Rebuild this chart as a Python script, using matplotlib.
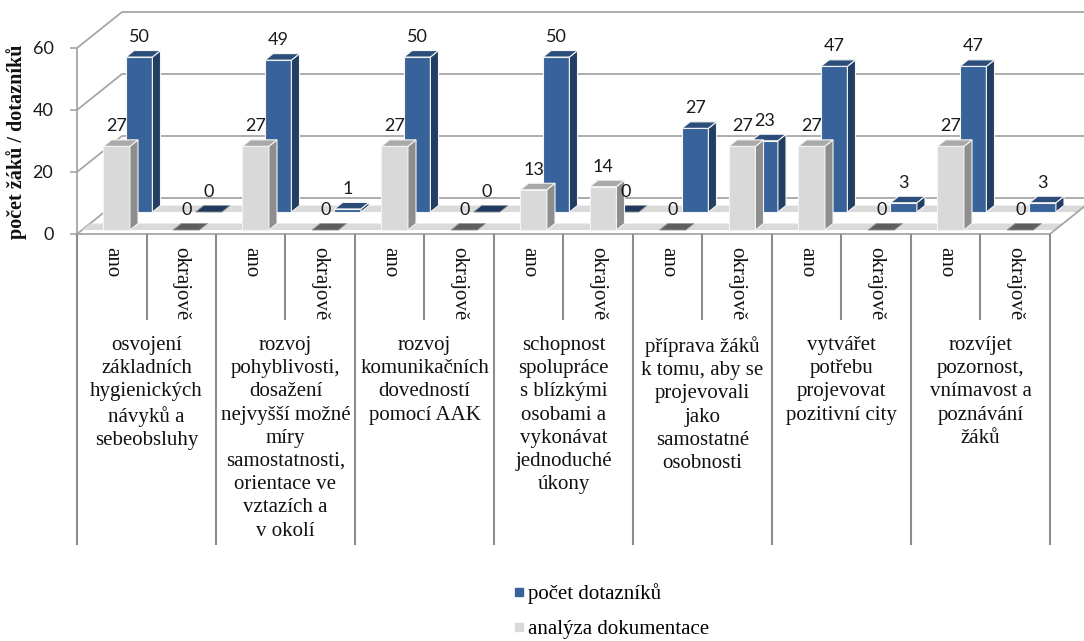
import numpy as np
import matplotlib
matplotlib.use('Agg')
import matplotlib.pyplot as plt
from matplotlib.patches import Polygon
from matplotlib.lines import Line2D

groups = ['osvojení\nzákladních\nhygienických\nnávyků a\nsebeobsluhy',
          'rozvoj\npohyblivosti,\ndosažení\nnejvyšší možné\nmíry\nsamostatnosti,\norientace ve\nvztazích a\nv okolí',
          'rozvoj\nkomunikačních\ndovedností\npomocí AAK',
          'schopnost\nspolupráce\ns blízkými\nosobami a\nvykonávat\njednoduché\núkony',
          'příprava žáků\nk tomu, aby se\nprojevovali\njako\nsamostatné\nosobnosti',
          'vytvářet\npotřebu\nprojevovat\npozitivní city',
          'rozvíjet\npozornost,\nvnímavost a\npoznávání\nžáků']
sub_labels = ['ano', 'okrajově']
dotazniky = [50, 0, 49, 1, 50, 0, 50, 0, 27, 23, 47, 3, 47, 3]
dokumentace = [27, 0, 27, 0, 27, 0, 13, 14, 0, 27, 27, 0, 27, 0]
y_ticks = [0, 20, 40, 60]

W, H = 1084, 641
# layout in pixels of the front plane
px_left, px_zero, px_cat, px_unit = 77, 234, 69.5, 3.1
# oblique depth of the whole box, in category / value units
DX, DY = 45 / px_cat, 36 / px_unit

ncat = len(dotazniky)
xmax = (W - px_left) / px_cat
ymax = 73.0
top_px = px_zero - ymax * px_unit

fig = plt.figure(figsize=(W / 100, H / 100), dpi=100)
ax = fig.add_axes([px_left / W, 1 - px_zero / H, (W - px_left) / W, (px_zero - top_px) / H])
ax.set_xlim(0, xmax)
ax.set_ylim(0, ymax)
ax.patch.set_visible(False)

grid_c = '#a6a6a6'
serif = 'Liberation Serif'
sans = 'Lato'


def proj(x, y, d):
    return (x + d * DX, y + d * DY)


def box(x0, w, v, d0, d1, front, side, top, flat, z):
    if v == 0:
        pts = [proj(x0, 0, d0), proj(x0 + w, 0, d0), proj(x0 + w, 0, d1), proj(x0, 0, d1)]
        ax.add_patch(Polygon(pts, fc=flat, ec='#9a9a9a', lw=0.6, zorder=z, clip_on=False))
        return
    x1 = x0 + w
    f = [proj(x0, 0, d0), proj(x1, 0, d0), proj(x1, v, d0), proj(x0, v, d0)]
    s = [proj(x1, 0, d0), proj(x1, 0, d1), proj(x1, v, d1), proj(x1, v, d0)]
    t = [proj(x0, v, d0), proj(x1, v, d0), proj(x1, v, d1), proj(x0, v, d1)]
    for pts, c in [(f, front), (s, side), (t, top)]:
        ax.add_patch(Polygon(pts, fc=c, ec='#f4f4f4', lw=0.8, zorder=z, clip_on=False))


# floor
floor = [proj(0, 0, 0), proj(ncat, 0, 0), proj(ncat, 0, 1), proj(0, 0, 1)]
ax.add_patch(Polygon(floor, fc='white', ec='none', zorder=1))
rows = {'blue': (0.61, 0.79), 'gray': (0.11, 0.29)}
for d0, d1 in rows.values():
    band = [proj(0, 0, d0), proj(ncat, 0, d0), proj(ncat, 0, d1), proj(0, 0, d1)]
    ax.add_patch(Polygon(band, fc='#dadada', ec='none', zorder=1.2))
ax.plot(*zip(proj(ncat, 0, 0), proj(ncat, 0, 1)), color=grid_c, lw=1.3, zorder=1.5)

# walls gridlines
for t in y_ticks:
    a, b = proj(0, t, 0), proj(0, t, 1)
    ax.plot([a[0], b[0], xmax], [a[1], b[1], b[1]], color=grid_c, lw=1.3, zorder=1.1, clip_on=False)

# bars
bx, bw = 0.31, 0.38
for i in range(ncat):
    d0, d1 = rows['blue']
    box(i + bx, bw, dotazniky[i], d0, d1, '#38629a', '#223e62', '#2b4d79', '#1f3a5e', 3)
for i in range(ncat):
    d0, d1 = rows['gray']
    box(i + bx, bw, dokumentace[i], d0, d1, '#d9d9d9', '#8e8e8e', '#a9a9a9', '#5e5e5e', 4)

# value labels
for vals, key in [(dotazniky, 'blue'), (dokumentace, 'gray')]:
    d0, d1 = rows[key]
    for i, v in enumerate(vals):
        xy = (i + bx + bw / 2 + d0 * DX, v + d1 * DY)
        ax.annotate(str(v), xy, xytext=(0, 13.5), textcoords='offset pixels',
                    ha='center', va='center', fontsize=13, family=sans,
                    color='#1a1a1a', zorder=6, annotation_clip=False)

# axes
for s in ['top', 'right']:
    ax.spines[s].set_visible(False)
ax.spines['left'].set_bounds(0, 60)
ax.spines['bottom'].set_bounds(0, ncat)
for s in ['left', 'bottom']:
    ax.spines[s].set_color(grid_c)
    ax.spines[s].set_linewidth(1.3)
    ax.spines[s].set_zorder(1.5)
ax.set_yticks(y_ticks)
ax.set_yticklabels([str(t) for t in y_ticks], family=sans, fontsize=13, color='#1a1a1a')
ax.tick_params(axis='y', length=5, width=1.2, color=grid_c, pad=12)
ax.set_xticks([])

# category axis below
xt = ax.get_xaxis_transform()
ax_h = px_zero - top_px
ax.vlines(np.arange(0, ncat + 1, 2), 0, -(545 - px_zero) / ax_h, transform=xt,
          color='#8c8c8c', lw=1.5, clip_on=False)
ax.vlines(np.arange(1, ncat, 2), 0, -(320 - px_zero) / ax_h, transform=xt,
          color='#8c8c8c', lw=1.5, clip_on=False)
for i in range(ncat):
    ax.annotate(sub_labels[i % 2], (i + 0.5, 0), xytext=(0, -(247 - px_zero)),
                textcoords='offset pixels', rotation=270, ha='center', va='top',
                fontsize=15, family=serif, color='#111111', annotation_clip=False)
for g, txt in enumerate(groups):
    ax.annotate(txt, (2 * g + 1, 0), xytext=(0, -(336 - px_zero)), textcoords='offset pixels',
                ha='center', va='top', multialignment='center', fontsize=15, family=serif,
                color='#111111', linespacing=1.3, annotation_clip=False)

fig.text(17 / W, 1 - 141.5 / H, 'počet žáků / dotazníků', rotation=90, ha='center', va='center',
         fontsize=14.5, family=serif, fontweight='bold', color='#111111')

handles = [Line2D([], [], ls='none', marker='s', markersize=5.5, mfc='#38629a', mec='#38629a'),
           Line2D([], [], ls='none', marker='s', markersize=5.5, mfc='#d9d9d9', mec='#d9d9d9')]
fig.legend(handles, ['počet dotazníků', 'analýza dokumentace'], loc='upper left',
           bbox_to_anchor=(514 / W, 1 - 583 / H), frameon=False, handlelength=0.5,
           handletextpad=0.15, borderpad=0, borderaxespad=0, labelspacing=0.75,
           prop={'family': serif, 'size': 15})

fig.savefig('out.png', dpi=100)
